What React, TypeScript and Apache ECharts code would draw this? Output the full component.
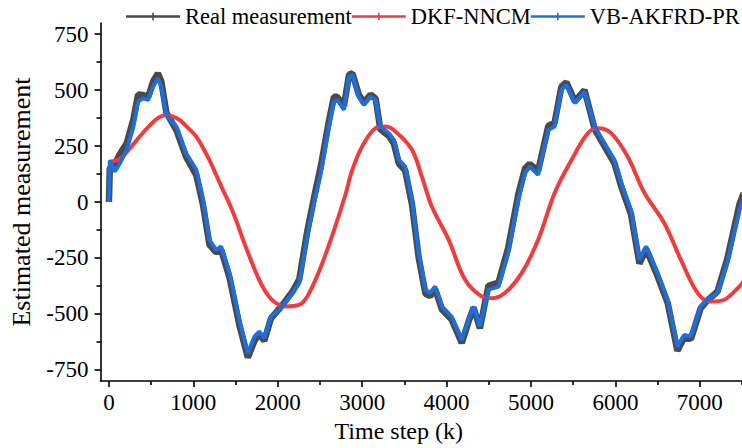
import React, { useEffect, useRef } from "react";
import * as echarts from "echarts";

// Time steps (k) sampled along the real measurement and VB-AKFRD-PR traces
const trackSteps = [0, 10, 70, 130, 210, 290, 345, 405, 465, 525, 580, 620, 680, 800, 915, 1035, 1115, 1190, 1270, 1330, 1430, 1545, 1645, 1725, 1780, 1840, 1920, 2035, 2175, 2255, 2350, 2430, 2510, 2605, 2665, 2705, 2785, 2845, 2885, 2960, 3020, 3100, 3160, 3215, 3315, 3375, 3435, 3510, 3590, 3670, 3750, 3805, 3865, 3945, 4060, 4180, 4260, 4320, 4395, 4495, 4615, 4730, 4850, 4930, 4985, 5085, 5205, 5280, 5360, 5420, 5520, 5635, 5755, 5870, 5990, 6070, 6185, 6285, 6365, 6500, 6620, 6735, 6815, 6895, 7010, 7090, 7210, 7325, 7470, 7520];

const realMeasurement = [0, 150, 170, 215, 262, 370, 480, 478, 470, 540, 575, 540, 400, 320, 200, 120, -15, -190, -225, -215, -340, -550, -695, -620, -590, -620, -520, -470, -400, -345, -130, 20, 160, 360, 470, 470, 430, 570, 575, 480, 445, 480, 462, 325, 295, 262, 172, 140, -10, -250, -410, -420, -390, -480, -525, -630, -535, -472, -565, -375, -360, -205, 35, 150, 170, 140, 340, 355, 515, 535, 450, 500, 325, 250, 172, 68, -55, -275, -210, -332, -452, -665, -605, -612, -475, -440, -400, -255, -10, 40];

const vbAkfrdPr = [0, 185, 136, 173, 233, 337, 449, 464, 456, 516, 553, 516, 389, 337, 218, 144, 10, -169, -214, -199, -318, -527, -676, -601, -579, -609, -512, -475, -407, -363, -154, -5, 129, 337, 449, 456, 412, 561, 568, 471, 434, 471, 456, 337, 308, 278, 188, 158, 10, -229, -392, -407, -378, -467, -512, -616, -527, -467, -557, -392, -378, -229, 10, 129, 158, 121, 322, 337, 501, 523, 442, 493, 337, 263, 188, 84, -35, -258, -199, -318, -437, -646, -594, -601, -467, -437, -407, -273, -35, 20];

// DKF-NNCM estimate (smooth)
const dkfSteps = [0, 130, 250, 370, 490, 580, 680, 760, 840, 940, 1035, 1110, 1190, 1270, 1350, 1430, 1505, 1585, 1665, 1745, 1820, 1900, 1980, 2095, 2250, 2350, 2490, 2645, 2800, 2880, 3000, 3160, 3275, 3395, 3590, 3710, 3825, 4025, 4220, 4415, 4535, 4690, 4890, 5085, 5280, 5480, 5675, 5790, 5950, 6145, 6345, 6580, 6775, 6975, 7130, 7290, 7470, 7520];

const dkfNncm = [180, 192, 240, 295, 345, 375, 389, 382, 366, 330, 292, 245, 188, 122, 54, -10, -80, -165, -244, -318, -378, -425, -452, -467, -460, -422, -310, -150, 30, 140, 248, 330, 337, 315, 233, 110, -20, -169, -348, -422, -430, -407, -318, -169, 40, 188, 308, 330, 308, 203, 40, -95, -258, -407, -445, -437, -378, -355];

const xTickValues = [0, 1000, 2000, 3000, 4000, 5000, 6000, 7000];
const xMinorTicks = [500, 1500, 2500, 3500, 4500, 5500, 6500, 7500];
const yTickValues = [-750, -500, -250, 0, 250, 500, 750];
const yMinorTicks = [-625, -375, -125, 125, 375, 625];

const FONT = "'Liberation Serif', 'Times New Roman', serif";

const zip = (xs: number[], ys: number[]) => xs.map((x, i) => [x, ys[i]]);

const legendIcon = "path://M0,5H54V7.4H0Z M26.2,2.5H27.8V10H26.2Z";

const plainNumber = (v: number) => String(v);

export default function App() {
  const ref = useRef<HTMLDivElement>(null);

  useEffect(() => {
    if (!ref.current) return;
    const chart = echarts.init(ref.current, undefined, { renderer: "svg" });

    const axisLine = { show: true, onZero: false, lineStyle: { color: "#000", width: 1.6 } };
    const tickLine = { color: "#000", width: 1.6 };

    chart.setOption({
      animation: false,
      backgroundColor: "#fff",
      grid: { left: 100.5, right: -3, top: 23, bottom: 67, containLabel: false },
      legend: {
        left: 126,
        top: 5,
        padding: 0,
        width: 640,
        itemWidth: 54,
        itemHeight: 12,
        itemGap: 0,
        icon: legendIcon,
        itemStyle: { borderWidth: 0 },
        textStyle: { fontFamily: FONT, fontSize: 22.5, color: "#000" },
        data: ["Real measurement", "DKF-NNCM", "VB-AKFRD-PR"],
      },
      xAxis: [
        {
          type: "value",
          min: -100,
          max: 7500,
          axisLine,
          splitLine: { show: false },
          name: "Time step (k)",
          nameLocation: "middle",
          nameGap: 38,
          nameTextStyle: { fontFamily: FONT, fontSize: 24, color: "#000", padding: [0, 45, 0, 0] },
          axisTick: { show: true, inside: false, length: 6, customValues: xTickValues, lineStyle: tickLine },
          axisLabel: { customValues: xTickValues, formatter: plainNumber, margin: 10, fontFamily: FONT, fontSize: 23, color: "#000" },
        },
        {
          type: "value",
          min: -100,
          max: 7500,
          position: "bottom",
          axisLine: { show: false, onZero: false },
          splitLine: { show: false },
          axisTick: { show: true, inside: false, length: 4, customValues: xMinorTicks, lineStyle: tickLine },
          axisLabel: { show: false },
        },
      ],
      yAxis: [
        {
          type: "value",
          min: -800,
          max: 800,
          axisLine,
          splitLine: { show: false },
          name: "Estimated measurement",
          nameLocation: "middle",
          nameGap: 66,
          nameTextStyle: { fontFamily: FONT, fontSize: 26, color: "#000" },
          axisTick: { show: true, inside: false, length: 6, customValues: yTickValues, lineStyle: tickLine },
          axisLabel: { customValues: yTickValues, formatter: plainNumber, margin: 12, fontFamily: FONT, fontSize: 23, color: "#000" },
        },
        {
          type: "value",
          min: -800,
          max: 800,
          position: "left",
          axisLine: { show: false, onZero: false },
          splitLine: { show: false },
          axisTick: { show: true, inside: false, length: 4, customValues: yMinorTicks, lineStyle: tickLine },
          axisLabel: { show: false },
        },
      ],
      series: [
        {
          name: "Real measurement",
          type: "line",
          data: zip(trackSteps, realMeasurement),
          color: "#4a4a4a",
          showSymbol: false,
          lineStyle: { width: 6.5, color: "#4a4a4a" },
          z: 2,
        },
        {
          name: "DKF-NNCM",
          type: "line",
          data: zip(dkfSteps, dkfNncm),
          color: "#f03c3c",
          smooth: 0.35,
          showSymbol: false,
          lineStyle: { width: 4, color: "#f03c3c" },
          z: 3,
        },
        {
          name: "VB-AKFRD-PR",
          type: "line",
          data: zip(trackSteps, vbAkfrdPr),
          color: "#1e6edc",
          showSymbol: false,
          lineStyle: { width: 4, color: "#1e6edc" },
          z: 4,
        },
      ],
    });

    return () => chart.dispose();
  }, []);

  return (
    <div
      ref={ref}
      style={{ position: "absolute", left: 0, top: 0, width: 742, height: 448, overflow: "hidden" }}
    />
  );
}
